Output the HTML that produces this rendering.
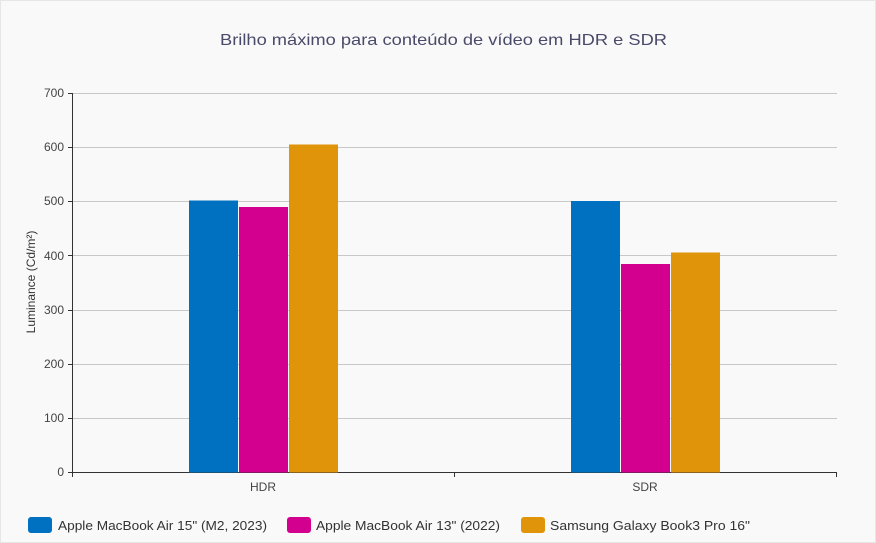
<!DOCTYPE html>
<html><head><meta charset="utf-8"><style>
body{margin:0;background:#fff}
svg{display:block;font-family:"Liberation Sans","DejaVu Sans",sans-serif}
</style></head><body>
<svg width="876" height="543" viewBox="0 0 876 543">
<rect x="0" y="0" width="876" height="543" fill="#f9f9f9"/>
<rect x="0.5" y="0.5" width="875" height="542" fill="none" stroke="#e6e6e6"/>
<text x="220" y="45" textLength="447" lengthAdjust="spacingAndGlyphs" font-size="16" fill="#4a4a6a">Brilho máximo para conteúdo de vídeo em HDR e SDR</text>
<g stroke="#c8c8c8" stroke-width="1">
<line x1="72" x2="837" y1="93.5" y2="93.5"/>
<line x1="72" x2="837" y1="147.5" y2="147.5"/>
<line x1="72" x2="837" y1="201.5" y2="201.5"/>
<line x1="72" x2="837" y1="255.5" y2="255.5"/>
<line x1="72" x2="837" y1="310.5" y2="310.5"/>
<line x1="72" x2="837" y1="364.5" y2="364.5"/>
<line x1="72" x2="837" y1="418.5" y2="418.5"/>
</g>
<g font-size="12" fill="#444" text-anchor="end">
<text x="64" y="97">700</text><text x="64" y="151">600</text><text x="64" y="205">500</text>
<text x="64" y="260">400</text><text x="64" y="314">300</text><text x="64" y="368">200</text>
<text x="64" y="422">100</text><text x="64" y="476">0</text>
</g>
<g stroke="#333" stroke-width="1">
<line x1="72.5" x2="72.5" y1="93" y2="473"/>
<line x1="68" x2="72" y1="93.5" y2="93.5"/><line x1="68" x2="72" y1="147.5" y2="147.5"/>
<line x1="68" x2="72" y1="201.5" y2="201.5"/><line x1="68" x2="72" y1="255.5" y2="255.5"/>
<line x1="68" x2="72" y1="310.5" y2="310.5"/><line x1="68" x2="72" y1="364.5" y2="364.5"/>
<line x1="68" x2="72" y1="418.5" y2="418.5"/><line x1="68" x2="72" y1="472.5" y2="472.5"/>
<line x1="72" x2="837" y1="472.5" y2="472.5"/>
<line x1="72.5" x2="72.5" y1="472" y2="477"/>
<line x1="454.5" x2="454.5" y1="472" y2="477"/>
<line x1="836.5" x2="836.5" y1="472" y2="477"/>
</g>
<text transform="translate(35,282) rotate(-90)" text-anchor="middle" font-size="12" fill="#333">Luminance (Cd/m²)</text>
<rect x="189" y="200.5" width="49" height="272" fill="#0070c0"/>
<rect x="239" y="207" width="49" height="265.5" fill="#d3008f"/>
<rect x="289" y="144.5" width="49" height="328" fill="#e0940a"/>
<rect x="571" y="201" width="49" height="271.5" fill="#0070c0"/>
<rect x="621" y="264" width="49" height="208.5" fill="#d3008f"/>
<rect x="671" y="252.5" width="49" height="220" fill="#e0940a"/>
<g font-size="12" fill="#444" text-anchor="middle">
<text x="263" y="491">HDR</text><text x="645" y="491">SDR</text>
</g>
<rect x="28" y="517" width="24" height="16" rx="3" fill="#0070c0"/>
<rect x="287" y="517" width="24" height="16" rx="3" fill="#d3008f"/>
<rect x="521" y="517" width="24" height="16" rx="3" fill="#e0940a"/>
<g font-size="13" fill="#333">
<text x="58" y="530" textLength="209" lengthAdjust="spacingAndGlyphs">Apple MacBook Air 15" (M2, 2023)</text>
<text x="316" y="530" textLength="184" lengthAdjust="spacingAndGlyphs">Apple MacBook Air 13" (2022)</text>
<text x="550" y="530" textLength="200" lengthAdjust="spacingAndGlyphs">Samsung Galaxy Book3 Pro 16"</text>
</g>
</svg>
</body></html>
